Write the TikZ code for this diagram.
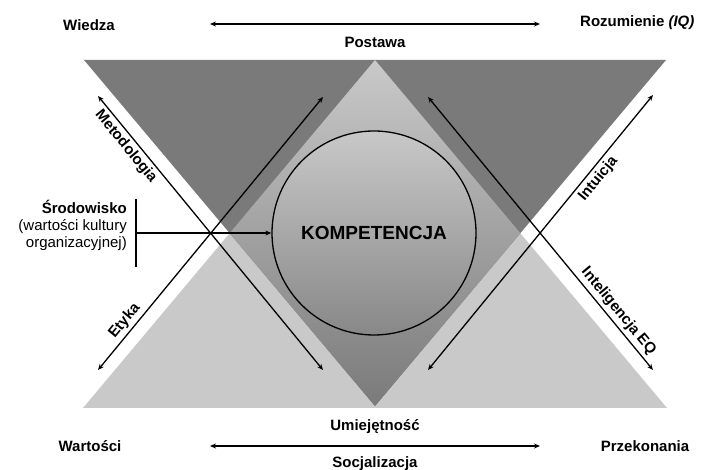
\documentclass[tikz,border=0pt]{standalone}
\usepackage{fontspec}
\setmainfont{Liberation Sans}
\usepackage{xcolor}
\usepackage{tikz}
\usetikzlibrary{arrows.meta, positioning}
\definecolor{darkgr}{RGB}{122,122,122}
\definecolor{lightgr}{RGB}{201,201,201}
\definecolor{circtop}{RGB}{200,200,200}
\definecolor{circbot}{RGB}{136,136,136}
\tikzset{
  lbl/.style={font=\bfseries\fontsize{15}{17}\selectfont, inner sep=0pt},
  dlbl/.style={font=\bfseries\fontsize{15}{17}\selectfont, inner sep=3pt, sloped},
  env/.style={font=\fontsize{15}{17}\selectfont, align=right, inner sep=0pt},
  core/.style={circle, draw=black, line width=1.3pt, minimum size=204pt,
    top color=circtop, bottom color=circbot, font=\bfseries\fontsize{19}{21}\selectfont},
  dblarrow/.style={{Stealth[length=6pt,width=5pt]}-{Stealth[length=6pt,width=5pt]}, line width=1.3pt},
  arrow/.style={-{Stealth[length=6pt,width=5pt]}, line width=1.3pt}
}
\begin{document}
\begin{tikzpicture}[x=1pt, y=-1pt]
  \useasboundingbox (0,0) rectangle (702,470);

  \fill[lightgr] (375,60) -- (83,408) -- (667,408) -- cycle;
  \fill[darkgr] (84,60) -- (666,60) -- (375,406) -- cycle;
  \begin{scope}
    \clip (84,60) -- (666,60) -- (375,406) -- cycle;
    \path[top color=lightgr, bottom color=darkgr] (375,60) -- (83,408) -- (667,408) -- cycle;
  \end{scope}

  \node[core] (komp) at (374,233) {KOMPETENCJA};

  \node[lbl] (wiedza) at (89,25) {Wiedza};
  \node[lbl, anchor=west] (rozum) at (580,23) {Rozumienie \textit{(IQ)}};
  \node[lbl] (postawa) at (375,42) {Postawa};
  \node[lbl] (umiej) at (375,427) {Umiejętność};
  \node[lbl] (wart) at (90,446) {Wartości};
  \node[lbl] (przek) at (645,446) {Przekonania};
  \node[lbl] (socjal) at (375,464) {Socjalizacja};
  \node[env, anchor=east] (srod) at (127,225) {\textbf{Środowisko}\\(wartości kultury\\organizacyjnej)};

  \coordinate (topL) at (210,24);
  \coordinate (topR) at (540,24);
  \coordinate (botL) at (210,446);
  \coordinate (botR) at (540,446);
  \coordinate (barT) at (136,199);
  \coordinate (barB) at (136,267);
  \coordinate (barM) at (136,233);

  \coordinate (a1) at (98,96);
  \coordinate (a2) at (323,370);
  \coordinate (b1) at (98,370);
  \coordinate (b2) at (323,97);
  \coordinate (c1) at (428,97);
  \coordinate (c2) at (653,370);
  \coordinate (d1) at (428,370);
  \coordinate (d2) at (653,95);

  \draw[dblarrow] (topL) -- (topR);
  \draw[dblarrow] (botL) -- (botR);
  \draw[line width=1.3pt] (barT) -- (barB);
  \draw[arrow] (barM) -- (komp);

  \draw[dblarrow] (a1) -- node[dlbl, below, pos=0.16] (metod) {Metodologia} (a2);
  \draw[dblarrow] (b1) -- node[dlbl, above, pos=0.155] (etyka) {Etyka} (b2);
  \draw[dblarrow] (c1) -- node[dlbl, above, pos=0.81] (intel) {Inteligencja EQ} (c2);
  \draw[dblarrow] (d1) -- node[dlbl, below, pos=0.72] (intu) {Intuicja} (d2);
\end{tikzpicture}
\end{document}
